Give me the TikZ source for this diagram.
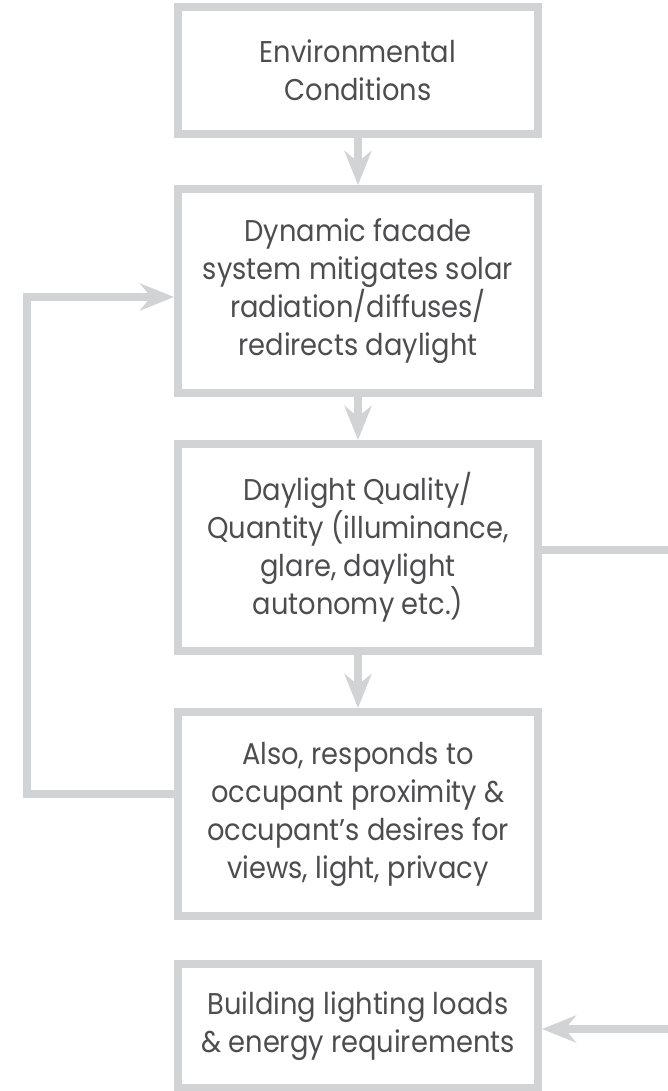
\documentclass[tikz,border=0pt]{standalone}
\usepackage{fontspec}
\setmainfont{Poppins}[FakeStretch=0.91]
\usetikzlibrary{arrows.meta}
\definecolor{linegray}{HTML}{D1D3D4}
\definecolor{textgray}{HTML}{4D4D4F}
\tikzset{
  stage/.style={draw=linegray, line width=8pt, minimum width=360pt, align=center,
    text=textgray, inner sep=0pt, font=\fontsize{30pt}{38pt}\selectfont},
  flow/.style={draw=linegray, line width=8pt, line join=miter,
    -{Stealth[length=34pt,width=27pt,inset=11pt]}},
  link/.style={draw=linegray, line width=8pt}
}
\begin{document}
\begin{tikzpicture}[x=1pt,y=-1pt]
        \useasboundingbox (0,0) rectangle (667,1091);

        \node[stage, minimum height=127pt] (env) at (358,70.5) {Environmental\\Conditions};
        \node[stage, minimum height=204pt] (facade) at (358,291) {Dynamic facade\\system mitigates solar\\radiation/diffuses/\\redirects daylight};
        \node[stage, minimum height=207pt] (daylight) at (358,547.5) {Daylight Quality/\\Quantity (illuminance,\\glare, daylight\\autonomy etc.)};
        \node[stage, minimum height=204pt] (occupant) at (358,814) {Also, responds to\\occupant proximity \&\\occupant’s desires for\\views, light, privacy};
        \node[stage, minimum height=124pt] (loads) at (358,1026) {Building lighting loads\\\& energy requirements};

        \draw[flow] (env) -- (facade);
        \draw[flow] (facade) -- (daylight);
        \draw[flow] (daylight) -- (occupant);

        % feedback loop on the left
        \coordinate (loopx) at (27,0);
        \coordinate (fbin) at ([yshift=-6pt]facade.west);
        \coordinate (fbout) at ([yshift=20pt]occupant.west);
        \draw[flow] (fbout) -| (loopx |- fbin) -- (fbin);

        % stubs leaving the picture on the right
        \coordinate (edge) at (675,0);
        \draw[link] ([yshift=-2pt]daylight.east) -- ([yshift=-2pt]daylight.east -| edge);
        \draw[flow] ([yshift=-3pt]loads.east -| edge) -- ([yshift=-3pt]loads.east);

    \end{tikzpicture}
\end{document}
